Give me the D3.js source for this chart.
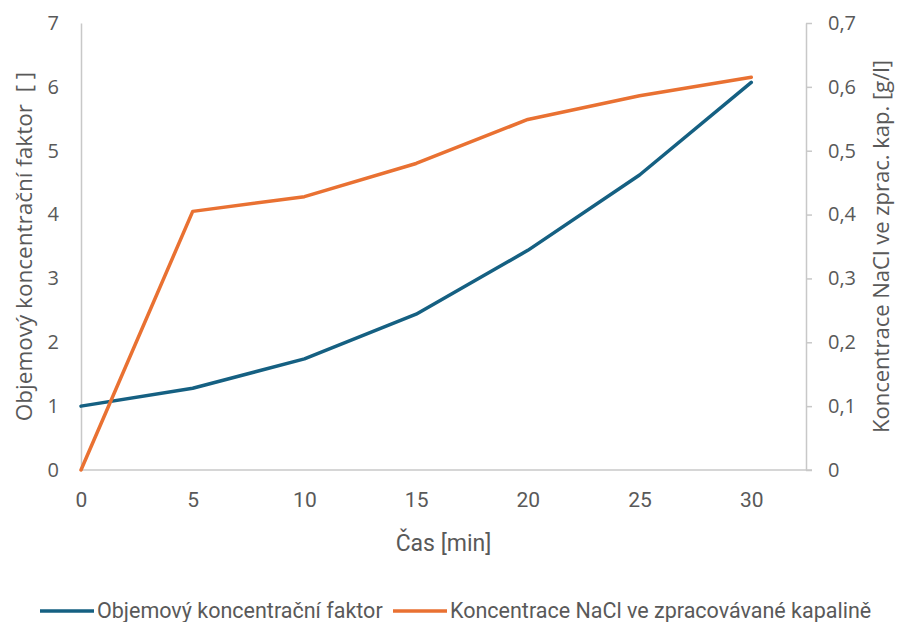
<!DOCTYPE html>
<html>
<head>
<meta charset="utf-8">
<script src="https://cdn.jsdelivr.net/npm/d3@7"></script>
<style>
   body { margin: 0; background: #fff; }
   text { font-family: "Roboto", sans-serif; fill: #595959; }
</style>
</head>
<body>
<svg id="chart" width="897" height="622"></svg>
<script>
// time points [min]
const times = [ 0, 5, 10, 15, 20, 25, 30 ];
// left axis series
const concFactor = [ 1.0, 1.28, 1.74, 2.44, 3.44, 4.62, 6.07 ];
// right axis series [g/l]
const naclConc = [ 0, 0.405, 0.428, 0.48, 0.549, 0.586, 0.615 ];

const xTicks = [ 0, 5, 10, 15, 20, 25, 30 ];
const leftTicks = [ 0, 1, 2, 3, 4, 5, 6, 7 ];
const rightTicks = [ 0, 0.1, 0.2, 0.3, 0.4, 0.5, 0.6, 0.7 ];

const seriesNames = [ 'Objemový koncentrační faktor', 'Koncentrace NaCl ve zpracovávané kapalině' ];
const colors = [ '#156082', '#e97132' ];

const margin = { left: 81, right: 91, top: 23, bottom: 152 };
const svg = d3.select( '#chart' );
const width = +svg.attr( 'width' ) - margin.left - margin.right;
const height = +svg.attr( 'height' ) - margin.top - margin.bottom;
const axisColor = '#c8c8c8';

const x = d3.scaleLinear().domain( [ 0, 32.45 ] ).range( [ 0, width ] );
const yLeft = d3.scaleLinear().domain( [ 0, 7 ] ).range( [ height, 0 ] );
const yRight = d3.scaleLinear().domain( [ 0, 0.7 ] ).range( [ height, 0 ] );

const g = svg.append( 'g' ).attr( 'transform', `translate(${margin.left},${margin.top})` );

const fmt = d3.format( '.1f' );
const comma = v => v === 0 ? '0' : fmt( v ).replace( '.', ',' );

// bottom axis
const xAxis = g.append( 'g' )
   .attr( 'transform', `translate(0,${height})` )
   .call( d3.axisBottom( x ).tickValues( xTicks ).tickSize( 0 ).tickPadding( 22 ) );
xAxis.select( '.domain' ).attr( 'd', `M0,0H${width + 6}` );

// left axis (line only)
const leftAxis = g.append( 'g' )
   .call( d3.axisLeft( yLeft ).tickValues( leftTicks ).tickFormat( d3.format( 'd' ) ).tickSize( 0 ).tickPadding( 22 ) );

// right axis with outward ticks
const rightAxis = g.append( 'g' )
   .attr( 'transform', `translate(${width},0)` )
   .call( d3.axisRight( yRight ).tickValues( rightTicks ).tickFormat( comma ).tickSizeInner( 6 ).tickSizeOuter( 0 ).tickPadding( 16 ) );

[ xAxis, leftAxis, rightAxis ].forEach( a => {
   a.select( '.domain' ).attr( 'stroke', axisColor ).attr( 'stroke-width', 1.5 );
   a.selectAll( '.tick line' ).attr( 'stroke', axisColor ).attr( 'stroke-width', 1.5 );
   a.selectAll( '.tick text' ).attr( 'fill', '#595959' ).style( 'font-size', '21px' )
      .style( 'font-family', '"Roboto", sans-serif' );
} );
leftAxis.selectAll( '.tick text' ).style( 'font-family', '"Open Sans", sans-serif' ).style( 'font-size', '20px' );
rightAxis.selectAll( '.tick text' ).style( 'font-family', '"Open Sans", sans-serif' ).style( 'font-size', '20px' );

// lines
const lineLeft = d3.line().x( ( d, i ) => x( times[ i ] ) ).y( d => yLeft( d ) );
const lineRight = d3.line().x( ( d, i ) => x( times[ i ] ) ).y( d => yRight( d ) );

g.append( 'path' ).datum( concFactor )
   .attr( 'd', lineLeft )
   .attr( 'fill', 'none' ).attr( 'stroke', colors[ 0 ] ).attr( 'stroke-width', 3.5 )
   .attr( 'stroke-linejoin', 'round' ).attr( 'stroke-linecap', 'round' );
g.append( 'path' ).datum( naclConc )
   .attr( 'd', lineRight )
   .attr( 'fill', 'none' ).attr( 'stroke', colors[ 1 ] ).attr( 'stroke-width', 3.5 )
   .attr( 'stroke-linejoin', 'round' ).attr( 'stroke-linecap', 'round' );

// axis titles
svg.append( 'text' )
   .attr( 'transform', `translate(32,${margin.top + height / 2}) rotate(-90)` )
   .attr( 'text-anchor', 'middle' )
   .style( 'font-family', '"Open Sans", sans-serif' ).style( 'font-size', '22.5px' )
   .style( 'white-space', 'pre' )
   .text( 'Objemový koncentrační faktor  [ ]' );
svg.append( 'text' )
   .attr( 'transform', `translate(889,${margin.top + height / 2}) rotate(-90)` )
   .attr( 'text-anchor', 'middle' )
   .style( 'font-family', '"Open Sans", sans-serif' ).style( 'font-size', '22px' )
   .text( 'Koncentrace NaCl ve zprac. kap. [g/l]' );
svg.append( 'text' )
   .attr( 'x', margin.left + width / 2 ).attr( 'y', 551 )
   .attr( 'text-anchor', 'middle' )
   .style( 'font-size', '23px' )
   .text( 'Čas [min]' );

// legend
const legendX = [ 40, 393 ];
const legend = svg.append( 'g' ).selectAll( 'g' ).data( seriesNames ).join( 'g' )
   .attr( 'transform', ( d, i ) => `translate(${legendX[ i ]},611)` );
legend.append( 'line' )
   .attr( 'x1', 0 ).attr( 'x2', 54 )
   .attr( 'stroke', ( d, i ) => colors[ i ] ).attr( 'stroke-width', 3.5 );
legend.append( 'text' )
   .attr( 'x', 57 ).attr( 'y', 7 )
   .style( 'font-size', '21.5px' )
   .text( d => d );
</script>
</body>
</html>
